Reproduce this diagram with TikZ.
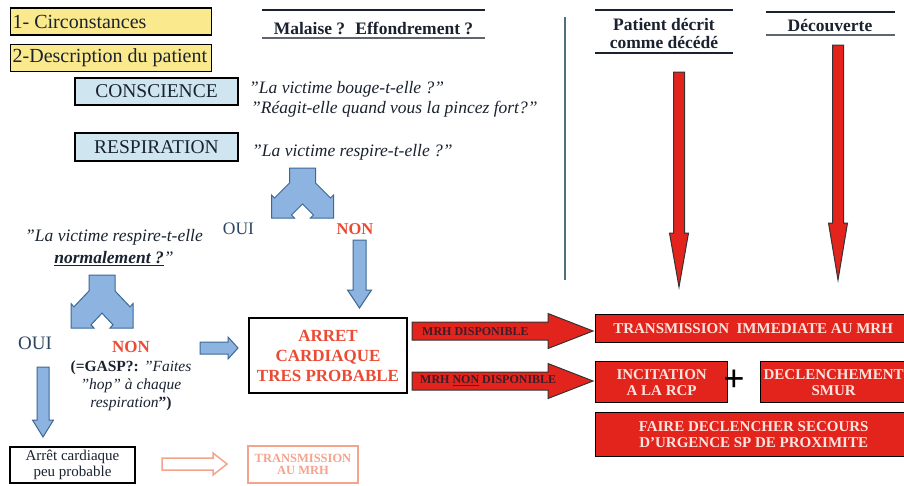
\documentclass[tikz,border=0pt]{standalone}
\usepackage{fontspec}
\setmainfont{Liberation Serif}
\usetikzlibrary{calc}
\definecolor{yellowc}{HTML}{FBE98D}
\definecolor{bluec}{HTML}{CFE6F1}
\definecolor{arrowfill}{HTML}{8DB3E0}
\definecolor{arrowline}{HTML}{3D6896}
\definecolor{redc}{HTML}{E3241C}
\definecolor{redtext}{HTML}{EB4A33}
\definecolor{salmon}{HTML}{F4A38D}
\definecolor{ink}{HTML}{1A2230}
\definecolor{ouic}{HTML}{2B4660}
\definecolor{pinkw}{HTML}{FCE4DE}
\definecolor{vlinec}{HTML}{50707E}
% vertical block arrow: style, start, tip, stem half, head half, head length
\newcommand\vblockarrow[6]{\path[#1] let \p1=(#2), \p2=(#3) in
  (\x1-#4pt,\y1) -- (\x1+#4pt,\y1) -- (\x1+#4pt,\y2+#6pt) -- (\x1+#5pt,\y2+#6pt)
  -- (\x1,\y2) -- (\x1-#5pt,\y2+#6pt) -- (\x1-#4pt,\y2+#6pt) -- cycle;}
% horizontal block arrow (to the right)
\newcommand\hblockarrow[6]{\path[#1] let \p1=(#2), \p2=(#3) in
  (\x1,\y1-#4pt) -- (\x2-#6pt,\y1-#4pt) -- (\x2-#6pt,\y1-#5pt) -- (\x2,\y1)
  -- (\x2-#6pt,\y1+#5pt) -- (\x2-#6pt,\y1+#4pt) -- (\x1,\y1+#4pt) -- cycle;}
% split block arrow: style, top centre, yscale
\newcommand\splitblockarrow[3]{\path[#1,shift={(#2)},yscale=#3]
  (-13,0) -- (13,0) -- (13,15) -- (28,30) -- (31,27) -- (31,50) -- (8,50) -- (11,47)
  -- (0,36) -- (-11,47) -- (-8,50) -- (-31,50) -- (-31,27) -- (-28,30) -- (-13,15) -- cycle;}
\begin{document}
\begin{tikzpicture}[x=1pt,y=-1pt,
  every node/.style={inner sep=0pt,text=ink},
  yellowbox/.style={draw=black,line width=1.3pt,fill=yellowc,minimum height=27pt,minimum width=201pt,inner xsep=2pt,anchor=west,font=\fontsize{20}{22}\selectfont},
  bluebox/.style={draw=black,line width=1.3pt,fill=bluec,minimum width=163pt,minimum height=27pt,font=\fontsize{19.5}{22}\selectfont},
  heading/.style={align=center,font=\bfseries\fontsize{17.5}{18}\selectfont},
  headline/.style={line width=1.4pt,draw=ink},
  quote/.style={anchor=west,font=\itshape\fontsize{17.5}{20}\selectfont},
  bluearrow/.style={fill=arrowfill,draw=arrowline,line width=1pt,line join=miter},
  redarrow/.style={fill=redc,draw=black!80,line width=1pt},
  redbox/.style={draw=black,line width=1.3pt,fill=redc,text=pinkw,align=center,anchor=north west,font=\bfseries\fontsize{15}{16}\selectfont},
  ouitext/.style={text=ouic},
  nontext/.style={text=redtext,font=\bfseries\fontsize{16.5}{18}\selectfont},
  mrhtext/.style={anchor=west,font=\bfseries\fontsize{12}{13}\selectfont,text=ink!85!red}
]
\useasboundingbox[fill=white] (0,0) rectangle (904,485);

% ---- top-left boxes
\node[yellowbox] (circ) at (10,21.5) {\makebox[197pt][l]{1- Circonstances}};
\node[yellowbox] (desc) at (10,58) {\makebox[197pt][l]{2-Description du patient}};
\node[bluebox] (consc) at (156.5,91.5) {CONSCIENCE};
\node[bluebox,minimum height=28pt] (resp) at (156.5,147) {RESPIRATION};
\node[quote] (q1) at (249,89) {"La victime bouge-t-elle ?"};
\node[quote] (q2) at (251,109) {"Réagit-elle quand vous la pincez fort?"};
\node[quote] (q3) at (252,152) {"La victime respire-t-elle ?"};

% ---- headings
\node[heading] (h1) at (373.5,28.5) {Malaise ?~ Effondrement ?};
\draw[headline] (262,10) -- (485,10);
\draw[headline,draw=ink!70] (262,38) -- (485,38);
\node[heading] (h2) at (664,34) {Patient décrit\\comme décédé};
\draw[headline] (595,10) -- (733,10);
\draw[headline] (595,53) -- (733,53);
\node[heading] (h3) at (830,25.5) {Découverte};
\draw[headline] (766,12) -- (895,12);
\draw[headline,draw=ink!70] (766,35) -- (895,35);
\draw[line width=1.2pt,vlinec] (565,17) -- (565,280);

% ---- red down arrows
\coordinate (r1s) at (679,72);  \coordinate (r1e) at (679,287);
\vblockarrow{redarrow}{r1s}{r1e}{5.5}{9.5}{54}
\coordinate (r2s) at (838,45);  \coordinate (r2e) at (838,280);
\vblockarrow{redarrow}{r2s}{r2e}{5.5}{9.5}{57}

% ---- first split
\coordinate (sp1) at (302.5,168);
\splitblockarrow{bluearrow}{sp1}{1}
\node[ouitext,font=\fontsize{17.5}{20}\selectfont] (oui1) at (238.5,229) {OUI};
\node[nontext] (non1) at (355,229) {NON};
\coordinate (a1s) at (359.5,240); \coordinate (a1e) at (359.5,308);
\vblockarrow{bluearrow}{a1s}{a1e}{6.5}{12}{18}

% ---- second split
\node[align=center,font=\itshape\fontsize{17.5}{22}\selectfont] (q4) at (114,248)
  {"La victime respire-t-elle\\\underline{\textbf{normalement ?}}"};
\coordinate (sp2) at (102,275);
\splitblockarrow{bluearrow}{sp2}{1.06}
\node[ouitext,font=\fontsize{19}{20}\selectfont] (oui2) at (35,343) {OUI};
\node[nontext,font=\bfseries\fontsize{17}{18}\selectfont] (non2) at (131,347) {NON};
\node[align=center,font=\fontsize{15.5}{18}\selectfont] (gasp) at (131,386)
  {\textbf{(=GASP?:} \textit{"Faites}\\\textit{"hop" à chaque}\\\textit{respiration}\textbf{")}};
\coordinate (a2s) at (43,367); \coordinate (a2e) at (43,437);
\vblockarrow{bluearrow}{a2s}{a2e}{6}{10.5}{17}
\coordinate (a3s) at (200,348); \coordinate (a3e) at (238,348);
\hblockarrow{bluearrow}{a3s}{a3e}{6}{11}{10}

% ---- central box
\node[draw=black,line width=1.5pt,fill=white,minimum width=158pt,minimum height=75pt,align=center,
  text=redtext,font=\bfseries\fontsize{17}{20}\selectfont] (arret) at (328,355.5)
  {ARRET\\CARDIAQUE\\TRES PROBABLE};

% ---- bottom-left
\node[draw=black,line width=1.5pt,fill=white,minimum width=125pt,minimum height=36pt,align=center,
  font=\fontsize{15}{16}\selectfont] (peu) at (72.5,465) {Arrêt cardiaque\\peu probable};
\coordinate (a4s) at (162,464); \coordinate (a4e) at (227,464);
\hblockarrow{draw=salmon,fill=white,line width=1.5pt}{a4s}{a4e}{6}{11}{14}
\node[draw=salmon,line width=1.5pt,minimum width=110pt,minimum height=37pt,align=center,
  text=salmon,font=\bfseries\fontsize{12.5}{12.5}\selectfont] (trans) at (303,464.5) {TRANSMISSION\\AU MRH};

% ---- MRH arrows
\coordinate (m1s) at (412,331); \coordinate (m1e) at (593,331);
\hblockarrow{redarrow}{m1s}{m1e}{9}{17.5}{45}
\coordinate (m2s) at (412,381); \coordinate (m2e) at (593,381);
\hblockarrow{redarrow}{m2s}{m2e}{9}{17.5}{45}
\node[mrhtext] (mrh1) at (422,332) {MRH DISPONIBLE};
\node[mrhtext] (mrh2) at (420,381) {MRH \underline{NON} DISPONIBLE};

% ---- red boxes
\node[redbox,minimum width=315pt,minimum height=28pt] (tim) at (595,314) {TRANSMISSION~ IMMEDIATE AU MRH};
\node[redbox,minimum width=132pt,minimum height=41pt] (incit) at (595,361) {INCITATION\\A LA RCP};
\node[redbox,minimum width=146pt,minimum height=41pt] (smur) at (760,361) {DECLENCHEMENT\\SMUR};
\node[redbox,minimum width=316pt,minimum height=44pt] (faire) at (595,412) {FAIRE DECLENCHER SECOURS\\D'URGENCE SP DE PROXIMITE};
\node[font=\bfseries\fontsize{38}{38}\selectfont,text=black] (plus) at (734,381) {+};
\end{tikzpicture}
\end{document}
